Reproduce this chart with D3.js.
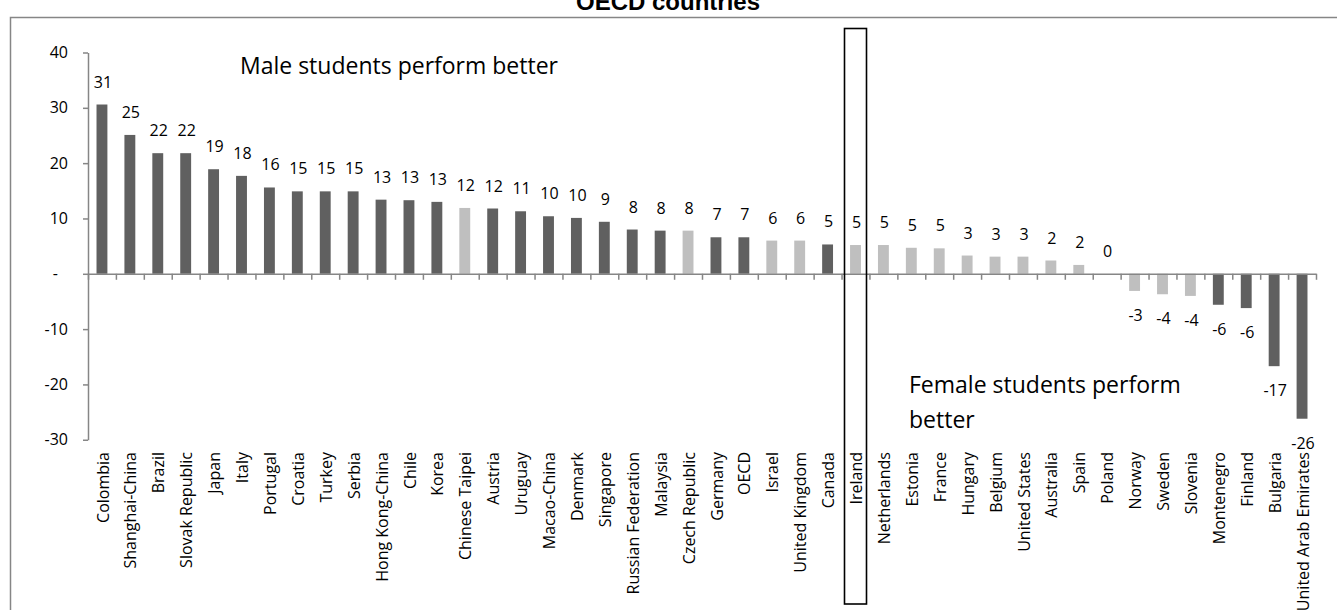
<!DOCTYPE html>
<html>
<head>
<meta charset="utf-8">
<script src="https://cdn.jsdelivr.net/npm/d3@7"></script>
<style>
  body { margin: 0; background: #fff; }
  svg { display: block; }
</style>
</head>
<body>
<svg id="chart" width="1337" height="610"></svg>
<script>
// gap in mean score (male - female), PISA, by country
var countries = ["Colombia", "Shanghai-China", "Brazil", "Slovak Republic", "Japan", "Italy",
    "Portugal", "Croatia", "Turkey", "Serbia", "Hong Kong-China", "Chile", "Korea",
    "Chinese Taipei", "Austria", "Uruguay", "Macao-China", "Denmark", "Singapore",
    "Russian Federation", "Malaysia", "Czech Republic", "Germany", "OECD", "Israel",
    "United Kingdom", "Canada", "Ireland", "Netherlands", "Estonia", "France", "Hungary",
    "Belgium", "United States", "Australia", "Spain", "Poland", "Norway", "Sweden",
    "Slovenia", "Montenegro", "Finland", "Bulgaria", "United Arab Emirates"];

var values = [30.6, 25.1, 21.8, 21.8, 18.9, 17.7,
    15.6, 14.9, 14.9, 14.9, 13.4, 13.3, 13.0,
    11.9, 11.8, 11.3, 10.4, 10.1, 9.4,
    8.0, 7.8, 7.8, 6.6, 6.6, 6.0,
    6.0, 5.3, 5.2, 5.2, 4.7, 4.6, 3.3,
    3.1, 3.1, 2.4, 1.6, 0, -3.1, -3.7,
    -4.0, -5.6, -6.2, -16.7, -26.2];

// "b" = shaded light in the original, "a" = dark
var group = ["a", "a", "a", "a", "a", "a",
    "a", "a", "a", "a", "a", "a", "a",
    "b", "a", "a", "a", "a", "a",
    "a", "a", "b", "a", "a", "b",
    "b", "a", "b", "b", "b", "b", "b",
    "b", "b", "b", "b", "b", "b", "b",
    "b", "a", "a", "a", "a"];

var yTicks = [-30, -20, -10, 0, 10, 20, 30, 40];
var highlight = "Ireland";

var svg = d3.select("#chart");
var font = "'Open Sans', sans-serif";
var axisGrey = "#868686";

var x = d3.scaleBand()
    .domain(countries)
    .range([88, 1316])
    .padding(0);

var y = d3.scaleLinear()
    .domain([-30, 40])
    .range([439.75, 52.5]);

var color = d3.scaleOrdinal()
    .domain(["a", "b"])
    .range(["#606060", "#bfbfbf"]);

// outer frame (only top and left show in the crop)
svg.append("rect")
    .attr("x", 10.5)
    .attr("y", 17.5)
    .attr("width", 1400)
    .attr("height", 700)
    .attr("fill", "none")
    .attr("stroke", axisGrey)
    .attr("stroke-width", 1.5);

svg.append("text")
    .attr("x", 668)
    .attr("y", 10)
    .attr("text-anchor", "middle")
    .attr("font-family", "'Liberation Sans', Arial, sans-serif")
    .attr("font-weight", "bold")
    .attr("font-size", 24)
    .text("OECD countries");

// y axis
var yAxis = svg.append("g")
    .attr("transform", "translate(88,0)")
    .call(d3.axisLeft(y)
        .tickValues(yTicks)
        .tickSize(5)
        .tickSizeOuter(0)
        .tickPadding(15)
        .tickFormat(function(d) { return d === 0 ? "-" : d; }));

yAxis.select(".domain").attr("stroke", axisGrey).attr("stroke-width", 1.5);
yAxis.selectAll(".tick line").attr("stroke", axisGrey).attr("stroke-width", 1.5);
yAxis.selectAll(".tick text")
    .attr("font-family", font)
    .attr("font-size", 16)
    .attr("fill", "#000")
    .attr("dx", function(d) { return d === 0 ? -10 : 0; });

// bars
var barW = x.bandwidth() * 0.39;

svg.append("g")
    .selectAll("rect")
    .data(countries)
    .join("rect")
    .attr("x", function(d) { return x(d) + (x.bandwidth() - barW) / 2; })
    .attr("width", barW)
    .attr("y", function(d, i) { return y(Math.max(0, values[i])); })
    .attr("height", function(d, i) { return Math.abs(y(values[i]) - y(0)); })
    .attr("fill", function(d, i) { return color(group[i]); });

// x axis with ticks between categories
var xEdges = d3.scaleLinear()
    .domain([0, countries.length])
    .range(x.range());

var xAxis = svg.append("g")
    .attr("transform", "translate(0," + y(0) + ")")
    .call(d3.axisBottom(xEdges)
        .tickValues(d3.range(countries.length + 1))
        .tickSize(6)
        .tickSizeOuter(0)
        .tickFormat(""));

xAxis.select(".domain").attr("stroke", axisGrey).attr("stroke-width", 1.5);
xAxis.selectAll(".tick line").attr("stroke", axisGrey).attr("stroke-width", 1.5);

// value labels
svg.append("g")
    .selectAll("text")
    .data(countries)
    .join("text")
    .attr("x", function(d) { return x(d) + x.bandwidth() / 2 + 1; })
    .attr("y", function(d, i) {
        return values[i] >= 0 ? y(values[i]) - 17 : y(values[i]) + 30;
    })
    .attr("text-anchor", "middle")
    .attr("font-family", font)
    .attr("font-size", 16)
    .text(function(d, i) { return Math.round(values[i]); });

// category labels, rotated
svg.append("g")
    .selectAll("text")
    .data(countries)
    .join("text")
    .attr("transform", function(d) {
        return "translate(" + (x(d) + x.bandwidth() / 2 + 1) + ",452) rotate(-90)";
    })
    .attr("dy", "0.35em")
    .attr("text-anchor", "end")
    .attr("font-family", font)
    .attr("font-size", 16)
    .text(function(d) { return d; });

// Ireland box
var hx = x(highlight) + x.bandwidth() / 2;
svg.append("rect")
    .attr("x", hx - 11)
    .attr("y", 28.5)
    .attr("width", 22)
    .attr("height", 575.5)
    .attr("fill", "none")
    .attr("stroke", "#000")
    .attr("stroke-width", 1.6);

// annotations
svg.append("text")
    .attr("x", 240)
    .attr("y", 74)
    .attr("font-family", font)
    .attr("font-size", 23)
    .text("Male students perform better");

var fem = svg.append("text")
    .attr("x", 909)
    .attr("y", 393)
    .attr("font-family", font)
    .attr("font-size", 23);
fem.append("tspan").attr("x", 909).text("Female students perform");
fem.append("tspan").attr("x", 909).attr("dy", 35).text("better");
</script>
</body>
</html>
